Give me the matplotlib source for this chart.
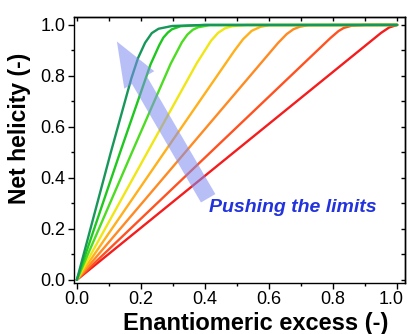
import matplotlib.pyplot as plt
import matplotlib.transforms as mtransforms
from matplotlib.patches import FancyArrowPatch
from matplotlib.ticker import MultipleLocator

# =====================
# STYLE
# =====================
plt.rcParams.update({
    "font.family": "Liberation Sans",
    "font.size": 12,
    "axes.linewidth": 1.0,
})

# =====================
# Data, reddest curve first
# =====================
ee_red = [0.0, 0.49, 0.95, 0.975, 1.0]
nh_red = [0.0, 0.50, 0.969, 0.99, 1.0]

ee_orange_red = [0.0, 0.417, 0.792, 0.817, 0.833, 0.858, 0.90, 1.0]
nh_orange_red = [0.0, 0.50, 0.949, 0.976, 0.988, 0.997, 1.0, 1.0]

ee_dark_orange = [0.0, 0.338, 0.628, 0.655, 0.676, 0.696, 0.723, 1.0]
nh_dark_orange = [0.0, 0.50, 0.929, 0.964, 0.983, 0.993, 0.999, 1.0]

ee_orange = [0.0, 0.273, 0.492, 0.519, 0.546, 0.574, 0.601, 1.0]
nh_orange = [0.0, 0.50, 0.899, 0.944, 0.977, 0.993, 0.999, 1.0]

ee_yellow = [0.0, 0.22, 0.374, 0.419, 0.441, 0.463, 0.485, 0.53, 1.0]
nh_yellow = [0.0, 0.50, 0.849, 0.938, 0.969, 0.987, 0.995, 1.0, 1.0]

ee_light_green = [0.0, 0.172, 0.293, 0.328, 0.345, 0.362, 0.379, 0.414, 1.0]
nh_light_green = [0.0, 0.50, 0.848, 0.932, 0.962, 0.981, 0.991, 0.999, 1.0]

ee_green = [0.0, 0.135, 0.230, 0.257, 0.270, 0.284, 0.297, 0.324, 0.40, 1.0]
nh_green = [0.0, 0.50, 0.845, 0.92, 0.95, 0.97, 0.983, 0.995, 1.0, 1.0]

ee_dark_green = [0.0, 0.106, 0.170, 0.191, 0.213, 0.234, 0.255, 0.298, 0.40, 1.0]
nh_dark_green = [0.0, 0.50, 0.79, 0.87, 0.93, 0.968, 0.985, 0.996, 1.0, 1.0]

curves = [
    (ee_red, nh_red, "#f41c1c"),
    (ee_orange_red, nh_orange_red, "#ff5220"),
    (ee_dark_orange, nh_dark_orange, "#ff8a22"),
    (ee_orange, nh_orange, "#ffb01a"),
    (ee_yellow, nh_yellow, "#f0e614"),
    (ee_light_green, nh_light_green, "#4cdc22"),
    (ee_green, nh_green, "#1ec81e"),
    (ee_dark_green, nh_dark_green, "#17975a"),
]

# =====================
# Plot
# =====================
fig = plt.figure(figsize=(4.08, 3.34), dpi=100)
ax = fig.add_axes([0.181, 0.153, 0.812, 0.796])

for x, y, c in curves:
    ax.plot(x, y, color=c, linewidth=1.7, solid_capstyle="round")

# big translucent arrow
arrow = FancyArrowPatch(
    (0.41, 0.32), (0.125, 0.935),
    arrowstyle="simple,head_length=3.2,head_width=2.5,tail_width=1.2",
    mutation_scale=10, shrinkA=0, shrinkB=0,
    color="#7f8cf2", alpha=0.55, linewidth=0, zorder=5
)
ax.add_patch(arrow)

ax.text(0.413, 0.285, "Pushing the limits", color="#2233dd",
        fontsize=14, fontweight="bold", fontstyle="italic",
        va="center", ha="left", zorder=6)

ax.set_xlim(-0.0094, 1.025)
ax.set_ylim(-0.012, 1.031)

ax.xaxis.set_major_locator(MultipleLocator(0.2))
ax.xaxis.set_minor_locator(MultipleLocator(0.1))
ax.yaxis.set_major_locator(MultipleLocator(0.2))
ax.yaxis.set_minor_locator(MultipleLocator(0.1))
ax.xaxis.set_major_formatter(plt.FormatStrFormatter("%.1f"))
ax.yaxis.set_major_formatter(plt.FormatStrFormatter("%.1f"))

ax.tick_params(which="major", direction="out", length=4, width=1,
               labelsize=13, pad=2)
ax.tick_params(which="minor", direction="out", length=2.5, width=1)

# top / right: inward ticks without labels
secx = ax.secondary_xaxis("top")
secx.xaxis.set_major_locator(MultipleLocator(0.1))
secx.tick_params(direction="in", length=3, width=1, labeltop=False)
secy = ax.secondary_yaxis("right")
secy.yaxis.set_major_locator(MultipleLocator(0.1))
secy.tick_params(direction="in", length=3, width=1, labelright=False)

ax.set_xlabel("Enantiomeric excess (-)", fontsize=17, fontweight="bold")
ax.set_ylabel("Net helicity (-)", fontsize=16.5, fontweight="bold")
ax.xaxis.set_label_coords(0.55, -0.11)
ax.yaxis.set_label_coords(-0.13, 0.58)

# keep the last x tick label inside the figure edge
fig.canvas.draw()
last = ax.xaxis.get_major_ticks()[-1]
for t in ax.xaxis.get_major_ticks():
    if abs(t.get_loc() - 1.0) < 1e-6:
        last = t
shift = mtransforms.ScaledTranslation(-4 / 72, 0, fig.dpi_scale_trans)
last.label1.set_transform(last.label1.get_transform() + shift)

fig.savefig("out.png", dpi=100)
plt.close(fig)
